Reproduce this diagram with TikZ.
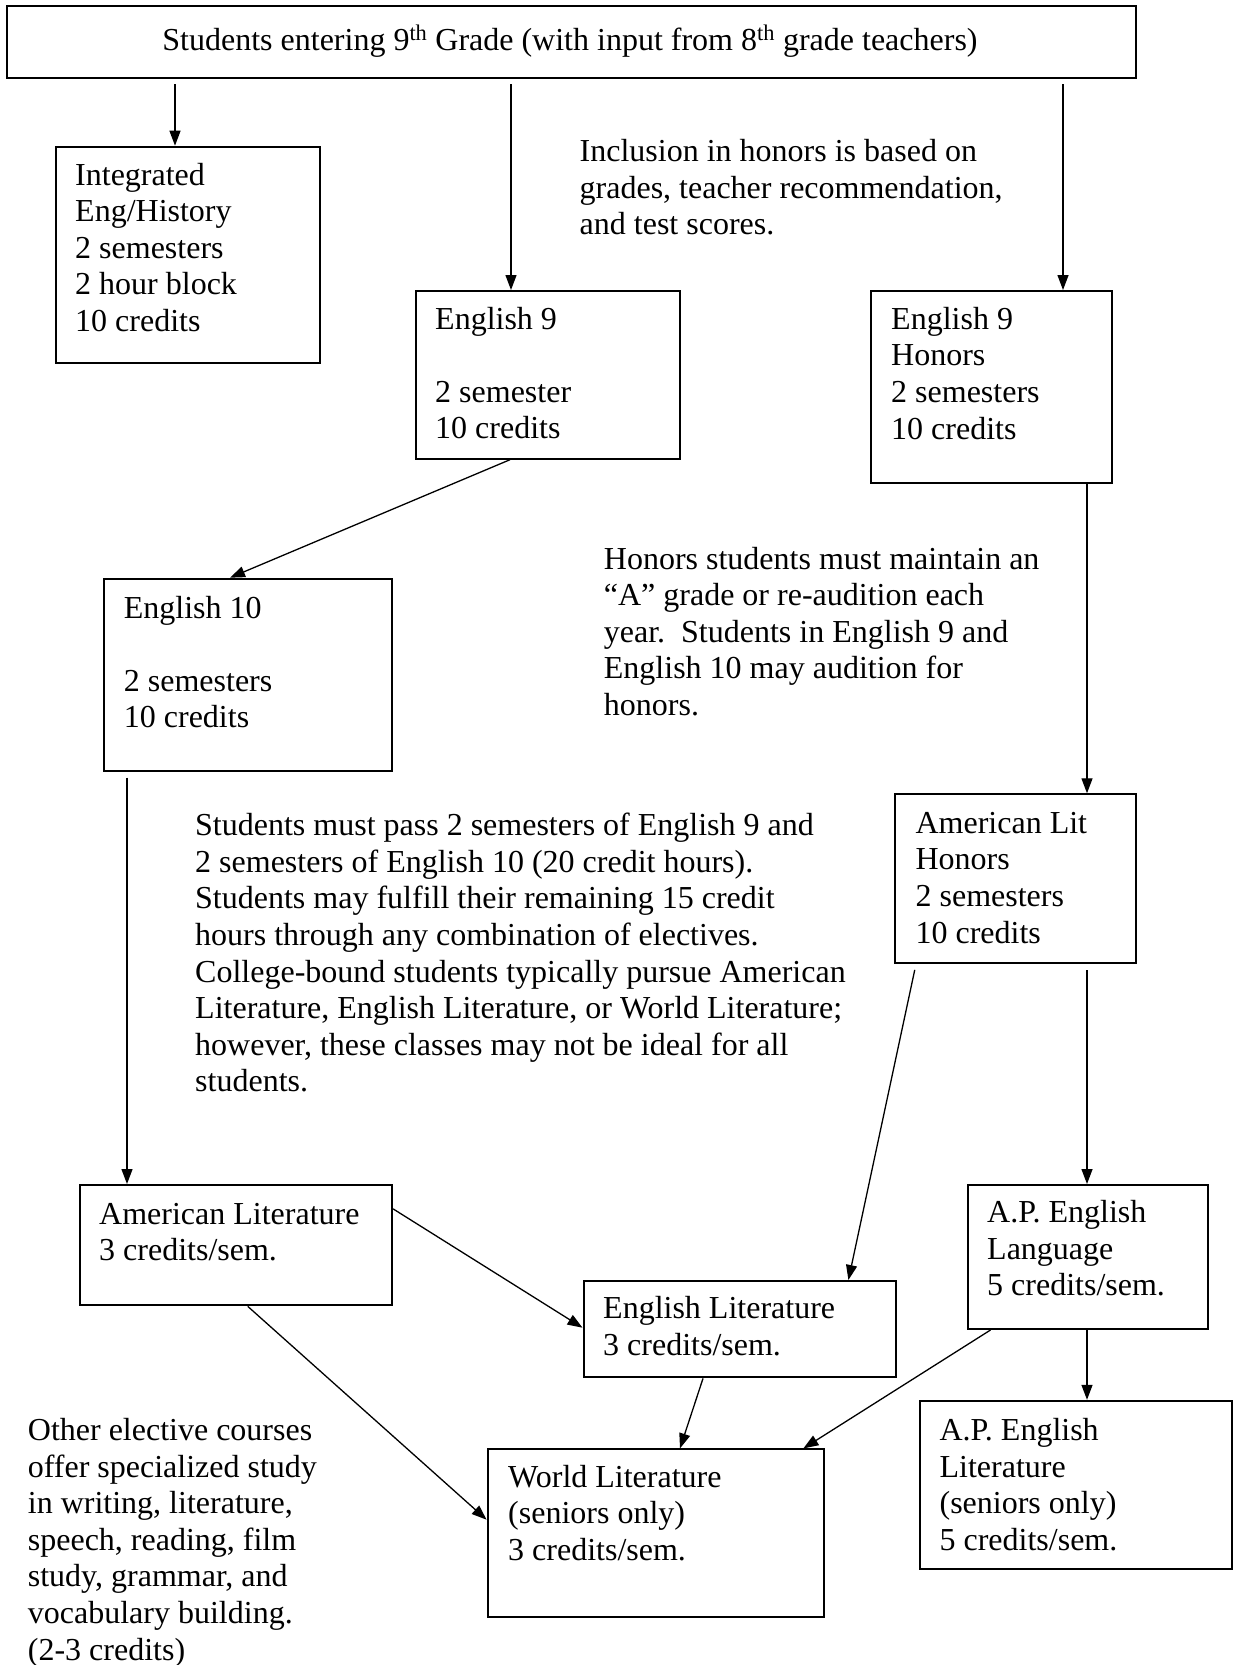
\documentclass[tikz,border=0pt]{standalone}
\usepackage{fontspec}
\setmainfont{Liberation Serif}
\usetikzlibrary{arrows.meta,calc}
\begin{document}
\begin{tikzpicture}[x=1pt,y=-1pt,
  box/.style={draw, line width=2pt, inner sep=0pt, anchor=north west},
  txt/.style={anchor=base west, inner sep=0pt, align=left, font=\fontsize{32}{36.6}\selectfont},
  arr/.style={-{Triangle[length=15pt,width=11pt]}, line width=1.3pt}]
\useasboundingbox (0,0) rectangle (1233,1665);
% boxes
\node[box, minimum width=1129pt, minimum height=72pt] (title) at (6,5) {};
\node[box, minimum width=264.5pt, minimum height=216pt] (integ) at (54.5,145.7) {};
\node[box, minimum width=263.5pt, minimum height=167.7pt] (eng9) at (415,290) {};
\node[box, minimum width=240.4pt, minimum height=191.7pt] (hon9) at (870.3,290) {};
\node[box, minimum width=288.3pt, minimum height=191.9pt] (eng10) at (102.7,577.7) {};
\node[box, minimum width=240.6pt, minimum height=168.7pt] (amlith) at (894.4,793.3) {};
\node[box, minimum width=312pt, minimum height=120.3pt] (amlit) at (79,1184) {};
\node[box, minimum width=312.7pt, minimum height=96.4pt] (englit) at (582.5,1280) {};
\node[box, minimum width=240.3pt, minimum height=144pt] (aplang) at (966.5,1184) {};
\node[box, minimum width=312pt, minimum height=167.9pt] (aplit) at (918.8,1399.8) {};
\node[box, minimum width=336.1pt, minimum height=167.9pt] (world) at (486.6,1448.4) {};
% texts (anchor = baseline of last line)
\node[txt, anchor=base] (ttitle) at (570,50) {Students entering 9\textsuperscript{th} Grade (with input from 8\textsuperscript{th} grade teachers)};
\node[txt] (tinteg) at (75,331.4) {Integrated\\Eng/History\\2 semesters\\2 hour block\\10 credits};
\node[txt] (teng9) at (435,438.8) {English 9\\\mbox{}\\2 semester\\10 credits};
\node[txt] (thon9) at (891,439.1) {English 9\\Honors\\2 semesters\\10 credits};
\node[txt] (teng10) at (123.7,727.8) {English 10\\\mbox{}\\2 semesters\\10 credits};
\node[txt] (tamlith) at (915.4,943.1) {American Lit\\Honors\\2 semesters\\10 credits};
\node[txt] (tamlit) at (99,1260.9) {American Literature\\3 credits/sem.};
\node[txt] (tenglit) at (603,1355.3) {English Literature\\3 credits/sem.};
\node[txt] (taplang) at (987,1295.7) {A.P. English\\Language\\5 credits/sem.};
\node[txt] (taplit) at (939.4,1550.3) {A.P. English\\Literature\\(seniors only)\\5 credits/sem.};
\node[txt] (tworld) at (508,1560.5) {World Literature\\(seniors only)\\3 credits/sem.};
\node[txt] (tincl) at (579.5,234.9) {Inclusion in honors is based on\\grades, teacher recommendation,\\and test scores.};
\node[txt] (thonn) at (603.7,715.4) {Honors students must maintain an\\“A” grade or re-audition each\\year.\ \ Students in English 9 and\\English 10 may audition for\\honors.};
\node[txt] (tmust) at (195,1091.9) {Students must pass 2 semesters of English 9 and\\2 semesters of English 10 (20 credit hours).\\Students may fulfill their remaining 15 credit\\hours through any combination of electives.\\College-bound students typically pursue American\\Literature, English Literature, or World Literature;\\however, these classes may not be ideal for all\\students.};
\node[txt] (tother) at (27.7,1660.1) {Other elective courses\\offer specialized study\\in writing, literature,\\speech, reading, film\\study, grammar, and\\vocabulary building.\\(2-3 credits)};
% helper coordinates
\coordinate (xa) at (175,0);
\coordinate (xb) at (511,0);
\coordinate (xc) at (1063,0);
\coordinate (xd) at (1087,0);
\coordinate (xe) at (127,0);
\coordinate (xf) at (510,0);
\coordinate (xg) at (230,0);
\coordinate (xh) at (916,0);
\coordinate (xi) at (848.4,0);
\coordinate (xj) at (247.7,0);
\coordinate (xk) at (703,0);
\coordinate (xl) at (680,0);
\coordinate (xm) at (990.5,0);
\coordinate (xn) at (803.4,0);
\coordinate (ya) at (0,1208.8);
\coordinate (yb) at (0,1327.7);
\coordinate (yc) at (0,1519.7);
% connectors
\draw[arr, shorten <=5pt] (title.south -| xa) -- (integ.north -| xa);
\draw[arr, shorten <=5pt] (title.south -| xb) -- (eng9.north -| xb);
\draw[arr, shorten <=5pt] (title.south -| xc) -- (hon9.north -| xc);
\draw[arr] (eng9.south -| xf) -- (eng10.north -| xg);
\draw[arr] (hon9.south -| xd) -- (amlith.north -| xd);
\draw[arr, shorten <=6pt] (eng10.south -| xe) -- (amlit.north -| xe);
\draw[arr] (amlit.east |- ya) -- (englit.west |- yb);
\draw[arr, shorten <=6pt] (amlith.south -| xh) -- (englit.north -| xi);
\draw[arr, shorten <=6pt] (amlith.south -| xd) -- (aplang.north -| xd);
\draw[arr] (amlit.south -| xj) -- (world.west |- yc);
\draw[arr] (englit.south -| xk) -- (world.north -| xl);
\draw[arr] (aplang.south -| xm) -- (world.north -| xn);
\draw[arr] (aplang.south -| xd) -- (aplit.north -| xd);
\end{tikzpicture}
\end{document}
